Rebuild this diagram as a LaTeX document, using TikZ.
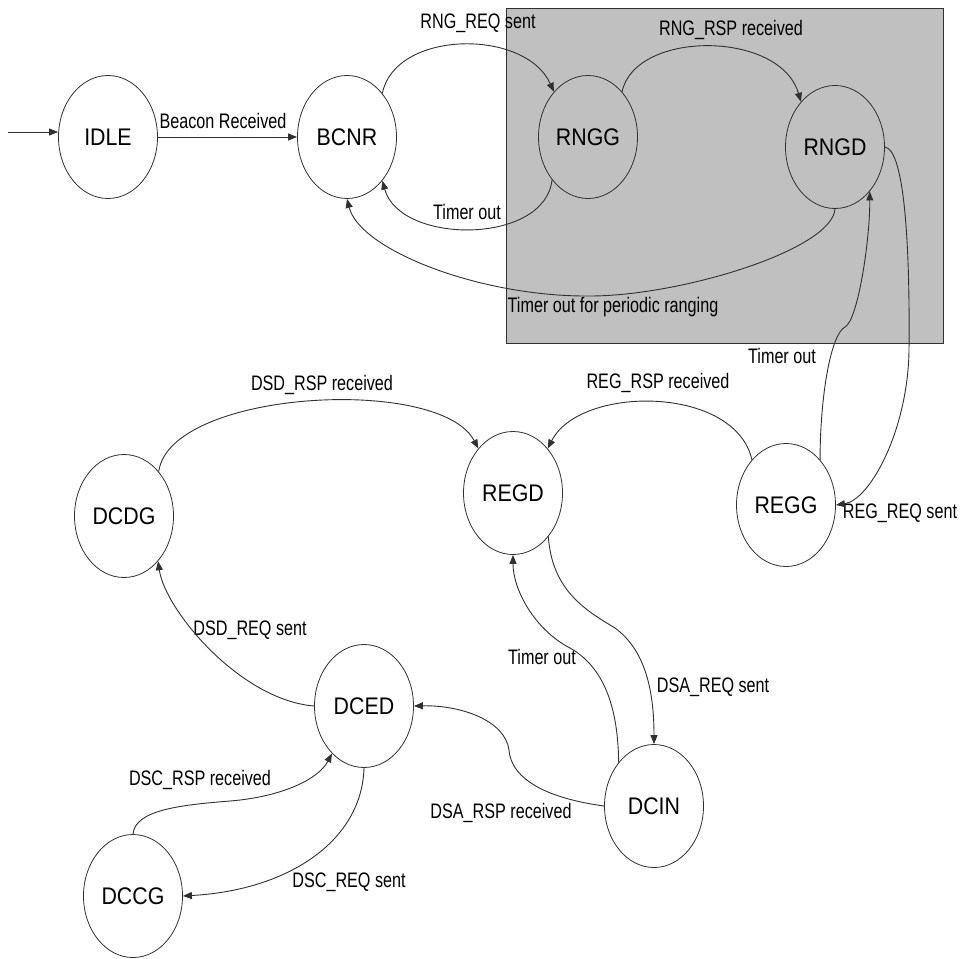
\documentclass[tikz,border=0pt]{standalone}
\usepackage{fontspec}
\setmainfont{Liberation Sans}
\usetikzlibrary{shapes.geometric,arrows.meta}
\definecolor{boxgray}{HTML}{C0C0C0}
\definecolor{linegray}{HTML}{303030}
\newcommand{\lbl}[1]{\scalebox{0.77}[1]{#1}}
\newcommand{\stt}[1]{\scalebox{0.89}[1]{#1}}
\begin{document}
\begin{tikzpicture}[x=1pt,y=-1pt,
  state/.style={ellipse, draw=linegray, line width=0.8pt, minimum width=99pt, minimum height=123pt, inner sep=0pt, font=\fontsize{24}{24}\selectfont},
  lab/.style={font=\fontsize{21}{22}\selectfont, inner sep=0pt, text=black},
  edge/.style={draw=linegray, line width=0.9pt, -{Triangle[length=9pt,width=7pt]}},
  region/.style={draw=linegray, line width=1.2pt, fill=boxgray}]
\useasboundingbox (0,0) rectangle (963,958);
% shaded region
\node[region, minimum width=437pt, minimum height=335pt, inner sep=0pt, anchor=north west] (zone) at (506,8) {};
% states
\node[state] (IDLE) at (108,137) {\stt{IDLE}};
\node[state] (BCNR) at (347,137) {\stt{BCNR}};
\node[state] (RNGG) at (588,137) {\stt{RNGG}};
\node[state] (RNGD) at (835,147) {\stt{RNGD}};
\node[state] (REGD) at (513,493) {\stt{REGD}};
\node[state] (REGG) at (786,505) {\stt{REGG}};
\node[state] (DCDG) at (124,516) {\stt{DCDG}};
\node[state] (DCED) at (364,706) {\stt{DCED}};
\node[state] (DCIN) at (654,806) {\stt{DCIN}};
\node[state] (DCCG) at (133,896) {\stt{DCCG}};
% labels
\node[lab] (l1) at (223,121) {\lbl{Beacon Received}};
\node[lab] (l2) at (478,23) {\lbl{RNG\_REQ sent}};
\node[lab] (l3) at (467,212) {\lbl{Timer out}};
\node[lab] (l4) at (731,30) {\lbl{RNG\_RSP received}};
\node[lab] (l5) at (613,307) {\lbl{Timer out for periodic ranging}};
\node[lab] (l6) at (782,356) {\lbl{Timer out}};
\node[lab] (l7) at (658,383) {\lbl{REG\_RSP received}};
\node[lab] (l8) at (900,513) {\lbl{REG\_REQ sent}};
\node[lab] (l9) at (322,385) {\lbl{DSD\_RSP received}};
\node[lab] (l10) at (250,630) {\lbl{DSD\_REQ sent}};
\node[lab] (l11) at (542,657) {\lbl{Timer out}};
\node[lab] (l12) at (713,687) {\lbl{DSA\_REQ sent}};
\node[lab] (l13) at (501,813) {\lbl{DSA\_RSP received}};
\node[lab] (l14) at (200,780) {\lbl{DSC\_RSP received}};
\node[lab] (l15) at (349,882) {\lbl{DSC\_REQ sent}};
% connectors
\coordinate (init) at (8,132);
\draw[edge] (init) -- (init -| IDLE.west);
\draw[edge] (IDLE.east) -- (BCNR.west);
\draw[edge] (BCNR.51) .. controls (395,30) and (525,28) .. (RNGG.127);
\draw[edge] (RNGG.230) .. controls (545,245) and (400,245) .. (BCNR.309);
\draw[edge] (RNGG.53) .. controls (635,30) and (780,30) .. (RNGD.127);
\draw[edge] (RNGD.south) .. controls (832,250) and (680,296) .. (590,296)
  .. controls (480,297) and (360,250) .. (BCNR.south);
\draw[edge] (RNGD.east) .. controls (905,150) and (910,250) .. (909,350)
  .. controls (908,430) and (870,500) .. (REGG.east);
\draw[edge] (REGG.53) .. controls (820,400) and (830,335) .. (845,327)
  .. controls (858,320) and (870,240) .. (RNGD.308);
\draw[edge] (REGG.127) .. controls (735,385) and (580,385) .. (REGD.52);
\draw[edge] (DCDG.52) .. controls (170,390) and (440,375) .. (REGD.128);
\draw[edge] (DCED.west) .. controls (240,700) and (165,610) .. (DCDG.307);
\draw[edge] (REGD.309) .. controls (552,590) and (585,610) .. (615,628)
  .. controls (645,650) and (654,690) .. (DCIN.north);
\draw[edge] (DCIN.129) .. controls (618,700) and (600,665) .. (570,648)
  .. controls (535,630) and (513,590) .. (REGD.south);
\draw[edge] (DCIN.west) .. controls (560,800) and (512,785) .. (509,750)
  .. controls (505,720) and (460,705) .. (DCED.east);
\draw[edge] (DCCG.north) .. controls (135,810) and (180,805) .. (230,801)
  .. controls (280,797) and (318,780) .. (DCED.236);
\draw[edge] (DCED.south) .. controls (362,840) and (290,890) .. (DCCG.east);
\end{tikzpicture}
\end{document}
